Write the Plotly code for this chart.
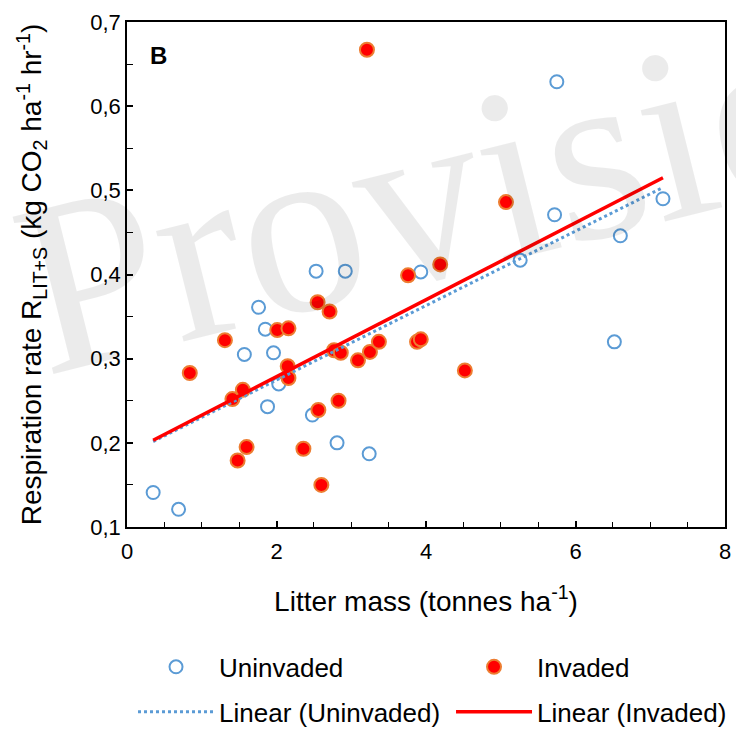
import numpy as np
import plotly.graph_objects as go

# Uninvaded plots: litter mass (tonnes/ha) vs respiration rate
unin_x = [0.35, 0.69, 1.76, 1.85, 1.57, 1.96, 2.03, 1.88, 2.53, 2.92, 2.48, 2.81,
          3.24, 3.93, 5.26, 5.72, 5.75, 6.60, 6.52, 7.17]
unin_y = [0.141, 0.121, 0.361, 0.335, 0.305, 0.307, 0.270, 0.243, 0.404, 0.404, 0.233, 0.200,
          0.187, 0.403, 0.417, 0.471, 0.629, 0.446, 0.320, 0.490]

# Invaded plots
inv_x = [0.84, 1.31, 1.41, 1.55, 1.48, 1.60, 2.01, 2.16, 2.15, 2.16, 2.55, 2.71, 2.36, 2.56,
         2.83, 2.60, 2.77, 2.86, 3.09, 3.25, 3.37, 3.88, 3.93, 3.76, 4.19, 4.52, 5.07, 3.21]
inv_y = [0.283, 0.322, 0.252, 0.263, 0.179, 0.195, 0.334, 0.336, 0.291, 0.277, 0.367, 0.356,
         0.193, 0.239, 0.250, 0.150, 0.310, 0.307, 0.298, 0.308, 0.320, 0.320, 0.323, 0.399,
         0.412, 0.286, 0.486, 0.667]

x_ticks = [0, 2, 4, 6, 8]
y_ticks = [0.1, 0.2, 0.3, 0.4, 0.5, 0.6, 0.7]

BLUE = "#5B9BD5"
RED = "#FF0000"
ORANGE = "#ED7D31"
FONT = "Liberation Sans, Arial, sans-serif"

# linear trendlines (least squares), drawn across the data range
all_x = unin_x + inv_x
x_line = np.array([min(all_x), max(all_x)])
bu = np.polyfit(unin_x, unin_y, 1)
bi = np.polyfit(inv_x, inv_y, 1)

fig = go.Figure()
fig.add_trace(go.Scatter(
    x=unin_x, y=unin_y, mode="markers", name="Uninvaded",
    marker=dict(symbol="circle-open", size=13, color=BLUE, line=dict(width=2, color=BLUE)),
    legend="legend"))
fig.add_trace(go.Scatter(
    x=inv_x, y=inv_y, mode="markers", name="Invaded",
    marker=dict(symbol="circle", size=14, color=RED, line=dict(width=2, color=ORANGE)),
    legend="legend"))
fig.add_trace(go.Scatter(
    x=x_line, y=np.polyval(bu, x_line), mode="lines", name="Linear (Uninvaded)",
    line=dict(color=BLUE, width=3, dash="dot"), legend="legend2"))
fig.add_trace(go.Scatter(
    x=x_line, y=np.polyval(bi, x_line), mode="lines", name="Linear (Invaded)",
    line=dict(color=RED, width=3.5), legend="legend2"))

legend_common = dict(
    orientation="h", xanchor="left", yanchor="middle",
    font=dict(family=FONT, size=26, color="black"),
    entrywidth=215, entrywidthmode="pixels", itemwidth=76, indentation=12,
    bgcolor="rgba(0,0,0,0)", borderwidth=0, traceorder="normal")

fig.update_layout(
    width=736, height=729,
    margin=dict(l=127, r=11, t=22, b=202, autoexpand=False),
    paper_bgcolor="white", plot_bgcolor="white",
    separators=", ",
    font=dict(family=FONT, color="black"),
    showlegend=True,
    legend=dict(x=-0.01, y=-0.277, **legend_common),
    legend2=dict(x=-0.01, y=-0.366, **legend_common),
    xaxis=dict(
        range=[0, 8], tickvals=x_ticks, ticks="inside", ticklen=6, tickwidth=1.5,
        tickcolor="black", showline=True, linecolor="black", linewidth=1.5, mirror=True,
        showgrid=False, zeroline=False, automargin=False, ticklabelstandoff=4,
        minor=dict(dtick=0.5, tick0=0, ticks="inside", ticklen=5, tickwidth=1, tickcolor="black"),
        tickfont=dict(family=FONT, size=22, color="black"),
        title=dict(text="Litter mass (tonnes ha<sup>-1</sup>)",
                   font=dict(family=FONT, size=28, color="black"), standoff=28),
    ),
    yaxis=dict(
        range=[0.1, 0.7], tickvals=y_ticks, tickformat=".1f", ticks="inside", ticklen=6,
        tickwidth=1.5, tickcolor="black", showline=True, linecolor="black", linewidth=1.5,
        mirror=True, showgrid=False, zeroline=False, automargin=False,
        minor=dict(dtick=0.05, tick0=0.1, ticks="inside", ticklen=6, tickwidth=1, tickcolor="black"),
        tickfont=dict(family=FONT, size=22, color="black"),
        title=dict(text="Respiration rate R<sub>LIT+S</sub> (kg CO<sub>2</sub> ha<sup>-1</sup> hr<sup>-1</sup>)",
                   font=dict(family=FONT, size=28, color="black"), standoff=40),
    ),
    annotations=[
        dict(text="<b>B</b>", xref="paper", yref="paper", x=0.035, y=0.965,
             xanchor="left", yanchor="top", showarrow=False,
             font=dict(family=FONT, size=24, color="black")),
        dict(text="Provisional", xref="paper", yref="paper", x=0.745, y=0.73,
             xanchor="center", yanchor="middle", showarrow=False, textangle=-14,
             font=dict(family="Liberation Serif, Times New Roman, serif", size=248,
                       color="rgba(0,0,0,0.08)")),
    ],
)

fig.write_html("out.html")
